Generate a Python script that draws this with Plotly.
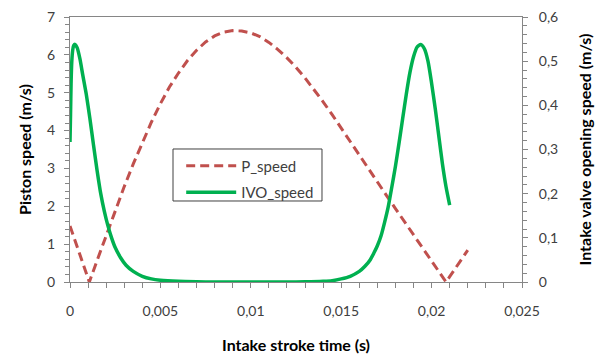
import plotly.graph_objects as go

# ---- data ----
p_time = [0, 0.0005, 0.001, 0.00107, 0.0015, 0.002, 0.0025, 0.003, 0.0035, 0.004,
          0.0045, 0.005, 0.0055, 0.006, 0.0065, 0.007, 0.0075, 0.008, 0.0085, 0.009,
          0.0095, 0.010, 0.0105, 0.011, 0.0115, 0.012, 0.0125, 0.013, 0.0135, 0.014,
          0.0145, 0.015, 0.0155, 0.016, 0.0165, 0.017, 0.0175, 0.018, 0.0185, 0.019,
          0.0195, 0.020, 0.0205, 0.0208, 0.021, 0.0215, 0.022]
p_speed = [1.48, 0.78, 0.09, 0.0, 0.57, 1.23, 1.88, 2.52, 3.12, 3.69,
           4.22, 4.71, 5.15, 5.52, 5.85, 6.12, 6.34, 6.50, 6.60, 6.64,
           6.63, 6.58, 6.48, 6.33, 6.14, 5.92, 5.67, 5.39, 5.09, 4.76,
           4.42, 4.06, 3.71, 3.35, 3.00, 2.64, 2.29, 1.94, 1.59, 1.24,
           0.90, 0.55, 0.21, 0.0, 0.14, 0.48, 0.84]

ivo_time = [0, 0.00003, 0.00006, 0.0001, 0.00015, 0.0002, 0.00028, 0.0004, 0.00055, 0.0007,
            0.0009, 0.0011, 0.0013, 0.0015, 0.0017, 0.0019, 0.0021, 0.0023, 0.0025, 0.0028,
            0.0031, 0.0035, 0.004, 0.0045, 0.005, 0.006, 0.007, 0.008, 0.009, 0.010,
            0.011, 0.012, 0.013, 0.014, 0.0145, 0.015, 0.0155, 0.016, 0.0163, 0.0166,
            0.0168, 0.0170, 0.0172, 0.0174, 0.0176, 0.0178, 0.0180, 0.0182, 0.0184, 0.0186,
            0.0188, 0.0190, 0.0192, 0.0194, 0.0196, 0.0198, 0.0200, 0.0202, 0.0204, 0.0206,
            0.0208, 0.0210]
ivo_speed = [0.317, 0.38, 0.45, 0.50, 0.525, 0.535, 0.538, 0.530, 0.505, 0.470,
             0.425, 0.370, 0.310, 0.252, 0.200, 0.160, 0.127, 0.100, 0.078, 0.055,
             0.038, 0.024, 0.013, 0.007, 0.004, 0.0015, 0.0005, 0.0, 0.0, 0.0,
             0.0, 0.0, 0.0003, 0.0015, 0.003, 0.007, 0.013, 0.024, 0.035, 0.050,
             0.065, 0.082, 0.104, 0.135, 0.170, 0.215, 0.262, 0.315, 0.370, 0.425,
             0.474, 0.510, 0.532, 0.538, 0.528, 0.500, 0.450, 0.393, 0.330, 0.267,
             0.215, 0.174]

x_ticks = [0, 0.005, 0.01, 0.015, 0.02, 0.025]
x_labels = ["0", "0,005", "0,01", "0,015", "0,02", "0,025"]
y_ticks = [0, 1, 2, 3, 4, 5, 6, 7]
y_labels = ["0", "1", "2", "3", "4", "5", "6", "7"]
y2_ticks = [0, 0.1, 0.2, 0.3, 0.4, 0.5, 0.6]
y2_labels = ["0", "0,1", "0,2", "0,3", "0,4", "0,5", "0,6"]

RED = "#C0504D"
GREEN = "#00B050"
AXIS = "#868686"
TICKFONT = dict(family="Lato", size=14, color="#404040")
TITLEFONT = dict(family="Lato", size=16, color="#000000", weight="bold")

fig = go.Figure()
fig.add_trace(go.Scatter(x=p_time, y=p_speed, name="P_speed", mode="lines",
                         legendgroup="a",
                         line=dict(color=RED, width=3, dash="9px,5px")))
fig.add_trace(go.Scatter(x=ivo_time, y=ivo_speed, name="IVO_speed", mode="lines",
                         yaxis="y2", legendgroup="b",
                         line=dict(color=GREEN, width=3.5, shape="spline", smoothing=0.6)))

# legend frame (drawn as a shape so its size matches the reference)
fig.add_shape(type="rect", xref="paper", yref="paper",
              x0=0.2279, x1=0.5575, y0=0.3057, y1=0.5019,
              line=dict(color="#404040", width=1), fillcolor="white", layer="below")

fig.update_layout(
    width=604, height=356,
    margin=dict(l=70, r=82, t=17, b=74),
    paper_bgcolor="white", plot_bgcolor="white",
    font=dict(family="Lato", size=14, color="#404040"),
    xaxis=dict(range=[0, 0.025], tickvals=x_ticks, ticktext=x_labels, automargin=False,
               showgrid=False, zeroline=False, showline=True, linecolor=AXIS,
               linewidth=1, mirror=True, ticks="outside", ticklen=5, tickcolor=AXIS,
               minor=dict(dtick=0.001, ticks="outside", ticklen=5, tickcolor=AXIS),
               tickfont=TICKFONT, ticklabelstandoff=11,
               title=dict(text="Intake stroke time (s)", font=TITLEFONT, standoff=22)),
    yaxis=dict(range=[0, 7], tickvals=y_ticks, ticktext=y_labels, automargin=False,
               showgrid=False, zeroline=False, showline=True, linecolor=AXIS,
               linewidth=1, ticks="outside", ticklen=5, tickcolor=AXIS,
               minor=dict(dtick=0.2, ticks="outside", ticklen=4, tickcolor=AXIS),
               tickfont=TICKFONT, ticklabelstandoff=6,
               title=dict(text="Piston speed (m/s)", font=TITLEFONT, standoff=11)),
    yaxis2=dict(range=[0, 0.6], tickvals=y2_ticks, ticktext=y2_labels, automargin=False,
                overlaying="y", side="right",
                showgrid=False, zeroline=False, showline=True, linecolor=AXIS,
                linewidth=1, ticks="outside", ticklen=5, tickcolor=AXIS,
                minor=dict(dtick=0.02, ticks="outside", ticklen=4, tickcolor=AXIS),
                tickfont=TICKFONT, ticklabelstandoff=8,
                title=dict(text="Intake valve opening speed (m/s)", font=TITLEFONT, standoff=22)),
    legend=dict(x=0.246, y=0.50, xanchor="left", yanchor="top",
                bgcolor="rgba(0,0,0,0)", borderwidth=0, itemwidth=50,
                tracegroupgap=4,
                font=dict(family="Lato", size=15, color="#404040")),
    showlegend=True,
)

fig.write_html("out.html")
